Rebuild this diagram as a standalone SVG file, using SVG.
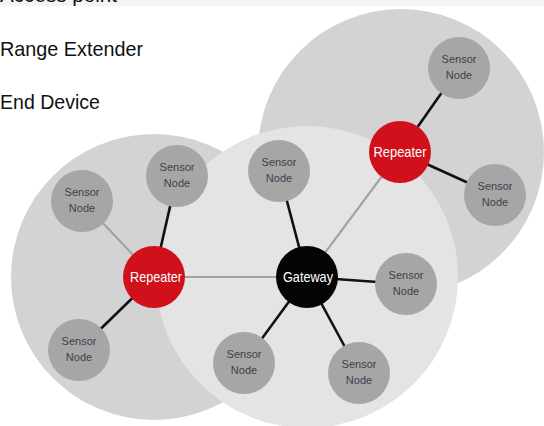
<svg xmlns="http://www.w3.org/2000/svg" width="544" height="426" viewBox="0 0 544 426">
  <style>
    .legend { font-family: "Liberation Sans", Arial, sans-serif; font-size: 21px; fill: #111111; }
    .zone-dark { fill: #d3d3d3; }
    .zone-light { fill: #e4e4e4; }
    .link-black { stroke: #111111; stroke-width: 2.6; fill: none; }
    .link-gray { stroke: #a3a3a3; stroke-width: 2.2; fill: none; }
    .sensor circle { fill: #a6a6a6; }
    .sensor text { font-family: "Liberation Sans", Arial, sans-serif; font-size: 11px; fill: #3c3f4c; text-anchor: middle; }
    .repeater circle { fill: #d0111c; }
    .gateway circle { fill: #050505; }
    .hub text { font-family: "Liberation Sans", Arial, sans-serif; font-size: 15px; fill: #ffffff; text-anchor: middle; }
  </style>

  <rect width="544" height="426" fill="#ffffff"/>
  <rect width="544" height="6" fill="#f4f4f4"/>

  <!-- legend -->
  <g id="legend">
    <text class="legend" x="0" y="2" textLength="117" lengthAdjust="spacingAndGlyphs">Access point</text>
    <text class="legend" x="0" y="56" textLength="143" lengthAdjust="spacingAndGlyphs">Range Extender</text>
    <text class="legend" x="0" y="109" textLength="100" lengthAdjust="spacingAndGlyphs">End Device</text>
  </g>

  <!-- coverage zones -->
  <g id="zones">
    <circle class="zone-dark" cx="401" cy="152" r="143"/>
    <circle class="zone-dark" cx="154" cy="277" r="143"/>
    <circle class="zone-light" cx="307" cy="277" r="151"/>
  </g>

  <!-- connectors -->
  <g id="connectors">
    <line class="link-gray" x1="154" y1="277" x2="82" y2="201"/>
    <line class="link-black" x1="154" y1="277" x2="177" y2="176"/>
    <line class="link-black" x1="154" y1="277" x2="79" y2="350"/>
    <line class="link-gray" x1="154" y1="277" x2="307" y2="277"/>
    <line class="link-black" x1="307" y1="277" x2="279" y2="171"/>
    <line class="link-gray" x1="307" y1="277" x2="400" y2="152"/>
    <line class="link-black" x1="307" y1="277" x2="406" y2="284"/>
    <line class="link-black" x1="307" y1="277" x2="244" y2="363"/>
    <line class="link-black" x1="307" y1="277" x2="359" y2="373"/>
    <line class="link-black" x1="400" y1="152" x2="459" y2="68"/>
    <line class="link-black" x1="400" y1="152" x2="495" y2="195"/>
  </g>

  <!-- sensor nodes -->
  <g id="sensor-1" class="sensor">
    <circle cx="82" cy="201" r="31"/>
    <text x="82" y="196">Sensor</text><text x="82" y="212">Node</text>
  </g>
  <g id="sensor-2" class="sensor">
    <circle cx="177" cy="176" r="31"/>
    <text x="177" y="171">Sensor</text><text x="177" y="187">Node</text>
  </g>
  <g id="sensor-3" class="sensor">
    <circle cx="279" cy="171" r="31"/>
    <text x="279" y="166">Sensor</text><text x="279" y="182">Node</text>
  </g>
  <g id="sensor-4" class="sensor">
    <circle cx="459" cy="68" r="31"/>
    <text x="459" y="63">Sensor</text><text x="459" y="79">Node</text>
  </g>
  <g id="sensor-5" class="sensor">
    <circle cx="495" cy="195" r="31"/>
    <text x="495" y="190">Sensor</text><text x="495" y="206">Node</text>
  </g>
  <g id="sensor-6" class="sensor">
    <circle cx="79" cy="350" r="31"/>
    <text x="79" y="345">Sensor</text><text x="79" y="361">Node</text>
  </g>
  <g id="sensor-7" class="sensor">
    <circle cx="244" cy="363" r="31"/>
    <text x="244" y="358">Sensor</text><text x="244" y="374">Node</text>
  </g>
  <g id="sensor-8" class="sensor">
    <circle cx="406" cy="284" r="31"/>
    <text x="406" y="279">Sensor</text><text x="406" y="295">Node</text>
  </g>
  <g id="sensor-9" class="sensor">
    <circle cx="359" cy="373" r="31"/>
    <text x="359" y="368">Sensor</text><text x="359" y="384">Node</text>
  </g>

  <!-- repeaters and gateway -->
  <g id="repeater-left" class="hub repeater">
    <circle cx="154" cy="277" r="31"/>
    <text x="156" y="282" textLength="52" lengthAdjust="spacingAndGlyphs">Repeater</text>
  </g>
  <g id="repeater-right" class="hub repeater">
    <circle cx="400" cy="152" r="31"/>
    <text x="400" y="157" textLength="53" lengthAdjust="spacingAndGlyphs">Repeater</text>
  </g>
  <g id="gateway" class="hub gateway">
    <circle cx="307" cy="277" r="31"/>
    <text x="308" y="282" textLength="50" lengthAdjust="spacingAndGlyphs">Gateway</text>
  </g>
</svg>
